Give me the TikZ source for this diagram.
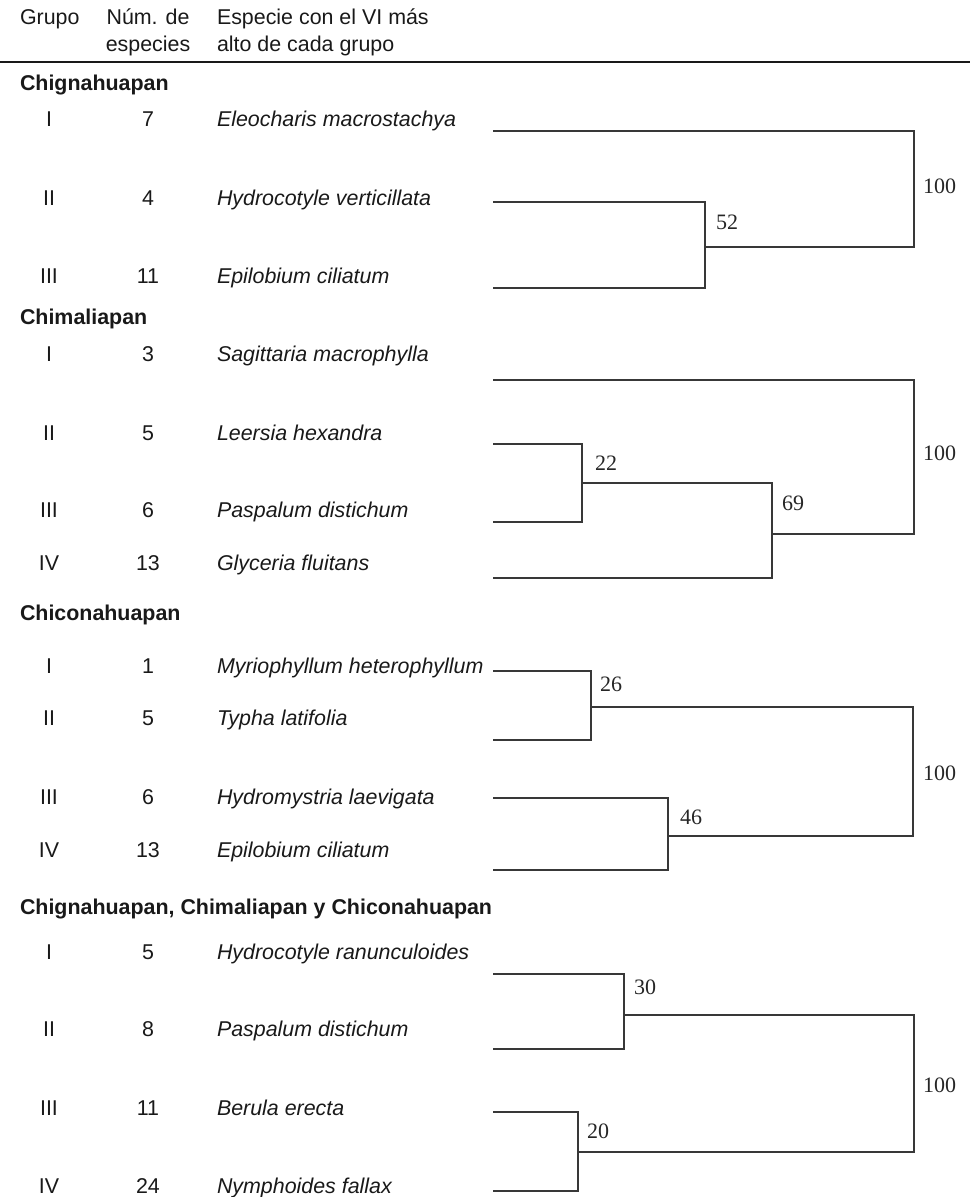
\documentclass[tikz,border=0pt]{standalone}
\usepackage{fontspec}
\setmainfont{Liberation Sans}
\newfontfamily\lblfont{Liberation Serif}
\begin{document}
\begin{tikzpicture}[x=0.5pt,y=-0.5pt,
  txt/.style={inner sep=0pt,outer sep=0pt,font=\fontsize{10.7pt}{12pt}\selectfont,text=black!90},
  hd/.style={txt,anchor=base west},
  sect/.style={txt,anchor=base west,font=\fontsize{10.7pt}{12pt}\selectfont\bfseries},
  grp/.style={txt,anchor=base},
  num/.style={txt,anchor=base},
  spc/.style={txt,anchor=base west,font=\fontsize{10.7pt}{12pt}\selectfont\itshape},
  val/.style={inner sep=0pt,outer sep=0pt,anchor=base west,font=\fontsize{11pt}{13pt}\lblfont,text=black!85},
  br/.style={draw=black!78,line width=0.75pt,line cap=rect}]
\useasboundingbox (0,0) rectangle (970,1197);
% header
\node[hd] (hg) at (20,25) {Grupo};
\node[grp] (hn1) at (148,25) {Núm. de};
\node[grp] (hn2) at (148,52) {especies};
\node[hd] (hs1) at (217,25) {Especie con el VI más};
\node[hd] (hs2) at (217,52) {alto de cada grupo};
\coordinate (rl) at (0,62); \coordinate (rr) at (970,62);
\draw[black!90,line width=0.8pt] (rl) -- (rr);

% ---------- Section 1
\node[sect] (s1) at (20,91) {Chignahuapan};
\node[grp] (a1g) at (49,127) {I};   \node[num] (a1n) at (148,127) {7};  \node[spc] (a1s) at (217,127) {Eleocharis macrostachya};
\node[grp] (a2g) at (49,206) {II};  \node[num] (a2n) at (148,206) {4};  \node[spc] (a2s) at (217,206) {Hydrocotyle verticillata};
\node[grp] (a3g) at (49,284) {III}; \node[num] (a3n) at (148,284) {11}; \node[spc] (a3s) at (217,284) {Epilobium ciliatum};
\coordinate (a1) at (494,131); \coordinate (a2) at (494,202); \coordinate (a3) at (494,288);
\coordinate (a23) at (705,247); \coordinate (aroot) at (914,189);
\draw[br] (a2) -| (a23) |- (a3);
\draw[br] (a23) -| (aroot) |- (a1);
\node[val] (a23v) at (716,230) {52};
\node[val] (arootv) at (923,194) {100};

% ---------- Section 2
\node[sect] (s2) at (20,325) {Chimaliapan};
\node[grp] (b1g) at (49,362) {I};   \node[num] (b1n) at (148,362) {3};  \node[spc] (b1s) at (217,362) {Sagittaria macrophylla};
\node[grp] (b2g) at (49,440) {II};  \node[num] (b2n) at (148,440) {5};  \node[spc] (b2s) at (217,440) {Leersia hexandra};
\node[grp] (b3g) at (49,517) {III}; \node[num] (b3n) at (148,517) {6};  \node[spc] (b3s) at (217,517) {Paspalum distichum};
\node[grp] (b4g) at (49,570) {IV};  \node[num] (b4n) at (148,570) {13}; \node[spc] (b4s) at (217,570) {Glyceria fluitans};
\coordinate (b1) at (494,380); \coordinate (b2) at (494,444); \coordinate (b3) at (494,522); \coordinate (b4) at (494,578);
\coordinate (b23) at (582,483); \coordinate (b234) at (772,534); \coordinate (broot) at (914,457);
\draw[br] (b2) -| (b23) |- (b3);
\draw[br] (b23) -| (b234) |- (b4);
\draw[br] (b234) -| (broot) |- (b1);
\node[val] (b23v) at (595,470) {22};
\node[val] (b234v) at (782,510) {69};
\node[val] (brootv) at (923,460) {100};

% ---------- Section 3
\node[sect] (s3) at (20,620) {Chiconahuapan};
\node[grp] (c1g) at (49,673) {I};   \node[num] (c1n) at (148,673) {1};  \node[spc] (c1s) at (217,673) {Myriophyllum heterophyllum};
\node[grp] (c2g) at (49,725) {II};  \node[num] (c2n) at (148,725) {5};  \node[spc] (c2s) at (217,725) {Typha latifolia};
\node[grp] (c3g) at (49,804) {III}; \node[num] (c3n) at (148,804) {6};  \node[spc] (c3s) at (217,804) {Hydromystria laevigata};
\node[grp] (c4g) at (49,857) {IV};  \node[num] (c4n) at (148,857) {13}; \node[spc] (c4s) at (217,857) {Epilobium ciliatum};
\coordinate (c1) at (494,671); \coordinate (c2) at (494,740); \coordinate (c3) at (494,798); \coordinate (c4) at (494,870);
\coordinate (c12) at (591,707); \coordinate (c34) at (668,836); \coordinate (croot) at (913,770);
\draw[br] (c1) -| (c12) |- (c2);
\draw[br] (c3) -| (c34) |- (c4);
\draw[br] (c12) -| (croot) |- (c34);
\node[val] (c12v) at (600,691) {26};
\node[val] (c34v) at (680,824) {46};
\node[val] (crootv) at (923,780) {100};

% ---------- Section 4
\node[sect] (s4) at (20,914) {Chignahuapan, Chimaliapan y Chiconahuapan};
\node[grp] (d1g) at (49,959) {I};    \node[num] (d1n) at (148,959) {5};   \node[spc] (d1s) at (217,959) {Hydrocotyle ranunculoides};
\node[grp] (d2g) at (49,1036) {II};  \node[num] (d2n) at (148,1036) {8};  \node[spc] (d2s) at (217,1036) {Paspalum distichum};
\node[grp] (d3g) at (49,1115) {III}; \node[num] (d3n) at (148,1115) {11}; \node[spc] (d3s) at (217,1115) {Berula erecta};
\node[grp] (d4g) at (49,1193) {IV};  \node[num] (d4n) at (148,1193) {24}; \node[spc] (d4s) at (217,1193) {Nymphoides fallax};
\coordinate (d1) at (494,974); \coordinate (d2) at (494,1049); \coordinate (d3) at (494,1112); \coordinate (d4) at (494,1191);
\coordinate (d12) at (624,1015); \coordinate (d34) at (578,1152); \coordinate (droot) at (914,1083);
\draw[br] (d1) -| (d12) |- (d2);
\draw[br] (d3) -| (d34) |- (d4);
\draw[br] (d12) -| (droot) |- (d34);
\node[val] (d12v) at (634,994) {30};
\node[val] (d34v) at (587,1138) {20};
\node[val] (drootv) at (923,1092) {100};
\end{tikzpicture}
\end{document}
